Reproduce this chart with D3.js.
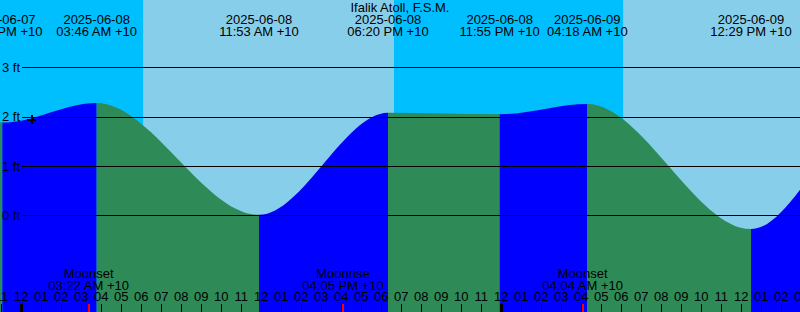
<!DOCTYPE html>
<html>
<head>
<meta charset="utf-8">
<script src="https://cdn.jsdelivr.net/npm/d3@7"></script>
<style>
  html, body { margin: 0; padding: 0; background: #fff; }
  svg { display: block; }
  text { font-family: "Liberation Sans", Arial, sans-serif; font-size: 13px; fill: #000; }
</style>
</head>
<body>
<div id="chart"></div>
<script>
// ---- data ----
const title = "Ifalik Atoll, F.S.M.";
const tideTimes   = ["2025-06-07 17:05", "2025-06-07 23:03", "2025-06-08 03:46", "2025-06-08 11:53", "2025-06-08 18:20", "2025-06-08 23:55", "2025-06-09 04:18", "2025-06-09 12:29", "2025-06-09 18:40", "2025-06-10 00:30"];
const tideHeights = [2.00, 1.88, 2.28, 0.01, 2.08, 2.05, 2.26, -0.28, 2.03, 1.90];
const sunTimes = ["2025-06-08 06:07", "2025-06-08 18:37", "2025-06-09 06:07"];
const sunKinds = ["rise", "set", "rise"];
const moonTimes = ["2025-06-08 03:22", "2025-06-08 16:05", "2025-06-09 04:04"];
const moonNames = ["Moonset", "Moonrise", "Moonset"];
const heightTicks = [0, 1, 2, 3];
const hourLabels = ["12","01","02","03","04","05","06","07","08","09","10","11"];
const viewStart = "2025-06-07 22:56";
const viewHours = 40;
const nowTime = "2025-06-08 00:28";
const nowHeight = 1.96;
const tz = "+10";

// ---- helpers ----
const hrs = s => (Date.UTC(+s.slice(0,4), +s.slice(5,7)-1, +s.slice(8,10), +s.slice(11,13), +s.slice(14,16)) - Date.UTC(2025,5,8)) / 3600000;
const fmtTime = s => {
  let h = +s.slice(11,13), m = s.slice(14,16);
  const ap = h < 12 ? "AM" : "PM";
  let h12 = h % 12; if (h12 === 0) h12 = 12;
  return String(h12).padStart(2, "0") + ":" + m + " " + ap + " " + tz;
};

const W = 800, H = 312;
const t0 = hrs(viewStart);
const x = d3.scaleLinear().domain([t0, t0 + viewHours]).range([0, W]);
const y = d3.scaleLinear().domain([0, 3]).range([215.3, 67.4]);

const svg = d3.select("#chart").append("svg").attr("width", W).attr("height", H);

// ---- sky (day / night) ----
const NIGHT = "#00BFFF", DAY = "#87CEEB";
const bounds = [t0].concat(sunTimes.map(hrs)).concat([t0 + viewHours]);
const skyColors = [sunKinds[0] === "rise" ? NIGHT : DAY];
sunKinds.forEach(k => skyColors.push(k === "rise" ? DAY : NIGHT));
for (let i = 0; i < bounds.length - 1; i++) {
  svg.append("rect")
    .attr("x", x(bounds[i])).attr("y", 0)
    .attr("width", x(bounds[i+1]) - x(bounds[i])).attr("height", H)
    .attr("fill", skyColors[i]);
}

// ---- tide fill ----
const pts = tideTimes.map((t, i) => ({ t: hrs(t), h: tideHeights[i] }));
const area = d3.area().x(d => x(d.t)).y0(H).y1(d => y(d.h)).curve(d3.curveMonotoneX);
const defs = svg.append("defs");
for (let i = 0; i < pts.length - 1; i++) {
  const id = "seg" + i;
  defs.append("clipPath").attr("id", id).append("rect")
    .attr("x", x(pts[i].t)).attr("y", 0)
    .attr("width", x(pts[i+1].t) - x(pts[i].t)).attr("height", H);
  svg.append("path").attr("d", area(pts))
    .attr("fill", pts[i+1].h > pts[i].h ? "#0000FF" : "#2E8B57")
    .attr("clip-path", `url(#${id})`);
}

// ---- height grid ----
heightTicks.forEach(v => {
  svg.append("line")
    .attr("x1", 22).attr("x2", W)
    .attr("y1", Math.round(y(v)) + 0.5).attr("y2", Math.round(y(v)) + 0.5)
    .attr("stroke", "#000").attr("stroke-width", 1);
  svg.append("text").attr("x", 2).attr("y", y(v) + 4.6).text(v + " ft");
});

// ---- now marker ----
const nx = Math.round(x(hrs(nowTime))), ny = Math.round(y(nowHeight));
svg.append("line").attr("x1", nx - 4).attr("x2", nx + 5).attr("y1", ny + 1).attr("y2", ny + 1)
  .attr("stroke", "#000").attr("stroke-width", 2);
svg.append("line").attr("x1", nx + 1).attr("x2", nx + 1).attr("y1", ny - 4).attr("y2", ny + 5)
  .attr("stroke", "#000").attr("stroke-width", 2);

// ---- title ----
svg.append("text").attr("x", W / 2).attr("y", 12).attr("text-anchor", "middle").text(title);

// ---- tide event labels ----
tideTimes.forEach((t, i) => {
  const cx = x(hrs(t));
  if (cx < -45 || cx > W + 45) return;
  svg.append("text").attr("x", cx).attr("y", 24).attr("text-anchor", "middle").text(t.slice(0, 10));
  svg.append("text").attr("x", cx).attr("y", 36).attr("text-anchor", "middle").text(fmtTime(t));
});

// ---- hour labels and ticks ----
for (let h = Math.ceil(t0); h <= t0 + viewHours + 1; h++) {
  const hx = x(h);
  const hod = ((h % 24) + 24) % 24;
  svg.append("text").attr("x", hx).attr("y", 301).attr("text-anchor", "middle")
    .text(hourLabels[hod % 12]);
  svg.append("line").attr("x1", Math.round(hx) + 0.5).attr("x2", Math.round(hx) + 0.5)
    .attr("y1", 304).attr("y2", H)
    .attr("stroke", "#000").attr("stroke-width", hod === 0 ? 3 : 1);
}

// ---- moon events ----
moonTimes.forEach((t, i) => {
  const mx = x(hrs(t));
  svg.append("text").attr("x", mx).attr("y", 278).attr("text-anchor", "middle").text(moonNames[i]);
  svg.append("text").attr("x", mx).attr("y", 290).attr("text-anchor", "middle").text(fmtTime(t));
  svg.append("line").attr("x1", Math.round(mx)).attr("x2", Math.round(mx))
    .attr("y1", 304).attr("y2", H).attr("stroke", "#FF0000").attr("stroke-width", 2);
});
</script>
</body>
</html>
